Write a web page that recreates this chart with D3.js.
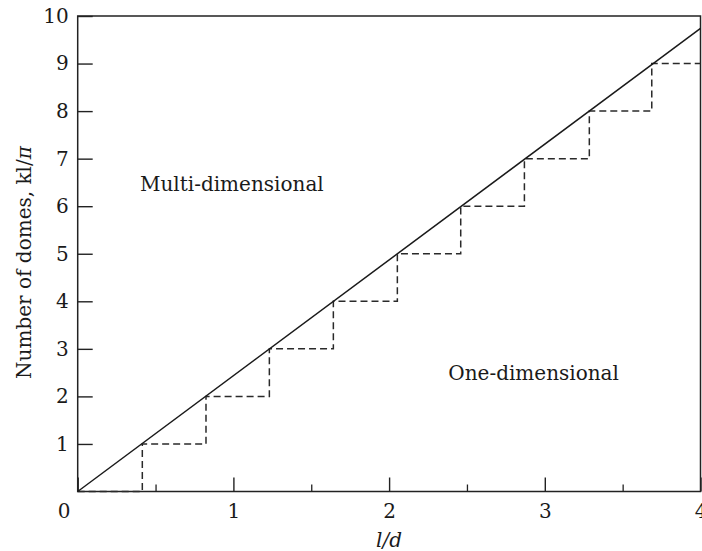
<!DOCTYPE html>
<html>
    <head>
        <script src="https://cdn.jsdelivr.net/npm/d3@7/dist/d3.min.js"></script>
        <style>
            body { margin: 0; background: #fff; }
            text { font-family: "DejaVu Serif", serif; fill: #1a1a1a; }
        </style>
    </head>
    <body>
        <svg width="702" height="551" id="mainsvg"></svg>
        <script>
            // data
            const xTicks = [0, 1, 2, 3, 4];
            const xMinorTicks = [0.5, 1.5, 2.5, 3.5];
            const yTicks = [1, 2, 3, 4, 5, 6, 7, 8, 9, 10];
            // solid line kl/pi vs l/d
            const lineX = [0, 4];
            const lineY = [0, 9.74];
            // dashed staircase (one-dimensional)
            const stepX = [0, 0.415, 0.824, 1.231, 1.642, 2.053, 2.460, 2.869, 3.286, 3.687, 4];
            const stepY = [0, 1, 2, 3, 4, 5, 6, 7, 8, 9, 9];
            const regionLabels = ["Multi-dimensional", "One-dimensional"];
            const regionX = [0.40, 2.38];
            const regionY = [6.33, 2.34];

            const main_svg = d3.select("#mainsvg");
            const margin = {top: 16, right: 1.5, bottom: 59.5, left: 77.7};
            const inner_width = 702 - margin.left - margin.right;
            const inner_height = 551 - margin.top - margin.bottom;
            const fs = 20;

            const xScale = d3.scaleLinear().domain([0, 4]).range([0, inner_width]);
            const yScale = d3.scaleLinear().domain([0, 10]).range([inner_height, 0]);

            const g = main_svg.append("g")
                .attr("transform", `translate(${margin.left}, ${margin.top})`);

            // frame
            g.append("rect")
                .attr("x", 0).attr("y", 0)
                .attr("width", inner_width).attr("height", inner_height)
                .attr("fill", "none")
                .attr("stroke", "#222")
                .attr("stroke-width", 1.5);

            // y axis, ticks pointing inward
            const yAxis = d3.axisLeft(yScale)
                .tickValues(yTicks)
                .tickSize(-15)
                .tickPadding(9)
                .tickFormat(d3.format("d"));
            const yAxisGroup = g.append("g").call(yAxis)
                .attr("font-size", fs)
                .attr("font-family", "DejaVu Serif");
            yAxisGroup.select(".domain").remove();
            yAxisGroup.selectAll("line").attr("stroke", "#222").attr("stroke-width", 1.4);
            yAxisGroup.selectAll("text").attr("fill", "#1a1a1a");

            // x axis, major ticks
            const xAxis = d3.axisBottom(xScale)
                .tickValues(xTicks)
                .tickSize(-14)
                .tickPadding(12)
                .tickFormat(d3.format("d"));
            const xAxisGroup = g.append("g").call(xAxis)
                .attr("transform", `translate(0, ${inner_height})`)
                .attr("font-size", fs)
                .attr("font-family", "DejaVu Serif");
            xAxisGroup.select(".domain").remove();
            xAxisGroup.selectAll("line").attr("stroke", "#222").attr("stroke-width", 1.4);
            xAxisGroup.selectAll("text").attr("fill", "#1a1a1a")
                .attr("dx", d => d === 0 ? -14 : 0);

            // x axis, minor ticks
            const xMinor = d3.axisBottom(xScale)
                .tickValues(xMinorTicks)
                .tickSize(-7)
                .tickFormat("");
            const xMinorGroup = g.append("g").call(xMinor)
                .attr("transform", `translate(0, ${inner_height})`);
            xMinorGroup.select(".domain").remove();
            xMinorGroup.selectAll("line").attr("stroke", "#222").attr("stroke-width", 1.3);

            // axis titles
            g.append("text")
                .attr("x", xScale(2))
                .attr("y", inner_height + 55)
                .attr("text-anchor", "middle")
                .attr("font-size", fs)
                .attr("font-style", "italic")
                .text("l/d");

            const yTitle = g.append("text")
                .attr("transform", `translate(${31.5 - margin.left}, ${262.5 - margin.top}) rotate(-90)`)
                .attr("text-anchor", "middle")
                .attr("font-size", fs);
            yTitle.append("tspan").text("Number of domes, kl/");
            yTitle.append("tspan").attr("font-style", "italic").text("π");

            // staircase
            const stepData = stepX.map((x, i) => [x, stepY[i]]);
            const stepLine = d3.line()
                .x(d => xScale(d[0]))
                .y(d => yScale(d[1]))
                .curve(d3.curveStepAfter);
            g.append("path")
                .datum(stepData)
                .attr("d", stepLine)
                .attr("fill", "none")
                .attr("stroke", "#2a2a2a")
                .attr("stroke-width", 1.5)
                .attr("stroke-dasharray", "7,4");

            // solid line
            const solidData = lineX.map((x, i) => [x, lineY[i]]);
            g.append("path")
                .datum(solidData)
                .attr("d", d3.line().x(d => xScale(d[0])).y(d => yScale(d[1])))
                .attr("fill", "none")
                .attr("stroke", "#1a1a1a")
                .attr("stroke-width", 1.5);

            // region labels
            g.selectAll(".region")
                .data(regionLabels)
                .enter().append("text")
                .attr("class", "region")
                .attr("x", (d, i) => xScale(regionX[i]))
                .attr("y", (d, i) => yScale(regionY[i]))
                .attr("font-size", fs)
                .text(d => d);
        </script>
    </body>
</html>
